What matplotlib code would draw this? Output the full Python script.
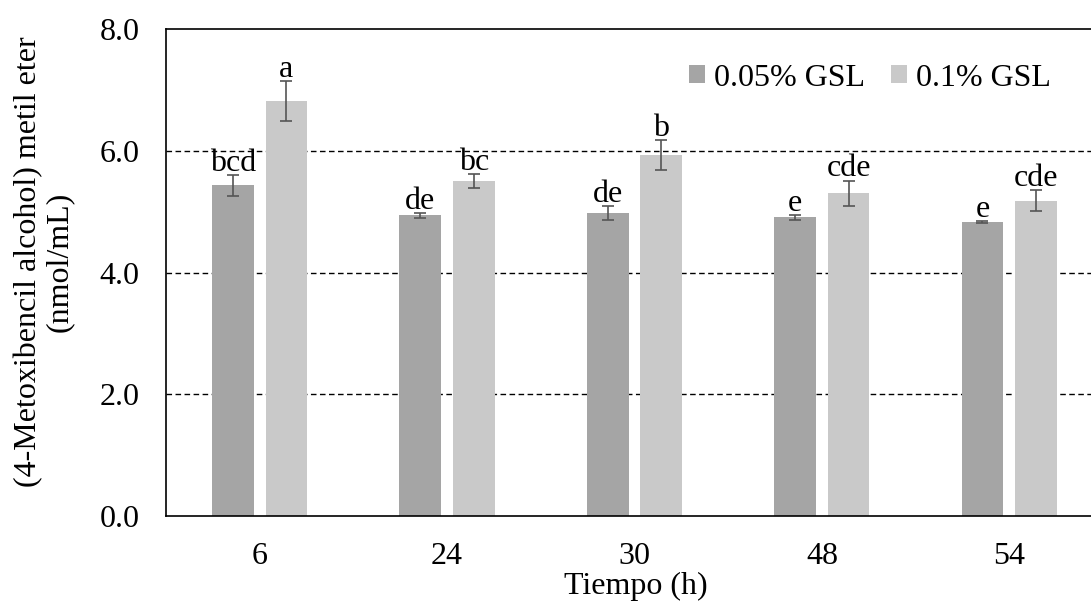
import matplotlib
matplotlib.use('Agg')
import matplotlib.pyplot as plt
import numpy as np

# Datos: concentración por tiempo de muestreo y dosis de GSL
tiempos = ['6', '24', '30', '48', '54']
series = ['0.05% GSL', '0.1% GSL']
media_005 = [5.43, 4.94, 4.98, 4.91, 4.83]
media_01 = [6.82, 5.50, 5.93, 5.30, 5.18]
de_005 = [0.17, 0.04, 0.11, 0.04, 0.01]
de_01 = [0.33, 0.11, 0.25, 0.21, 0.17]
letras_005 = ['bcd', 'de', 'de', 'e', 'e']
letras_01 = ['a', 'bc', 'b', 'cde', 'cde']
yticks = [0.0, 2.0, 4.0, 6.0, 8.0]

COLOR_005 = '#a5a5a5'
COLOR_01 = '#c9c9c9'
FUENTE = 'Liberation Serif'
TAM = 23

plt.rcParams['font.family'] = FUENTE

fig = plt.figure(figsize=(10.91, 6.09), dpi=100)
ax = fig.add_axes([166 / 1091, 93 / 609, 925 / 1091, 487 / 609])

x = np.arange(len(tiempos))
ancho = 0.222
desp = 0.143

err_kw = dict(ecolor='#555555', elinewidth=1.2, capsize=4.5, capthick=1.2)
ax.bar(x - desp, media_005, ancho, color=COLOR_005, label=series[0],
       yerr=de_005, error_kw=err_kw, zorder=2)
ax.bar(x + desp, media_01, ancho, color=COLOR_01, label=series[1],
       yerr=de_01, error_kw=err_kw, zorder=2)

# Letras de significancia sobre cada barra
for xs, medias, des, letras in [(x - desp, media_005, de_005, letras_005),
                                (x + desp, media_01, de_01, letras_01)]:
    for xi, m, d, l in zip(xs, medias, des, letras):
        ax.annotate(l, xy=(xi, m + d), xytext=(0, 3), textcoords='offset points',
                    ha='center', va='baseline', fontsize=TAM, zorder=3)

ax.set_xlim(-0.5, 4.436)
ax.set_ylim(0, 8)
ax.set_yticks(yticks)
ax.set_yticklabels([f'{v:.1f}' for v in yticks], fontsize=TAM)
ax.set_xticks(x)
ax.set_xticklabels(tiempos, fontsize=TAM)
ax.tick_params(axis='both', length=0)
ax.tick_params(axis='y', pad=19)
ax.tick_params(axis='x', pad=19)

for v in yticks[1:-1]:
    ax.axhline(v, color='black', linewidth=1.0, linestyle=(0, (4, 2.5)), zorder=1)

ax.spines['right'].set_visible(False)
for s in ['left', 'bottom', 'top']:
    ax.spines[s].set_color('black')
    ax.spines[s].set_linewidth(1.2)

ax.legend(loc='center left', bbox_to_anchor=(689 / 1091, (609 - 78) / 609),
          bbox_transform=fig.transFigure, ncol=2, frameon=False,
          fontsize=TAM, handlelength=0.5, handleheight=0.5, handletextpad=0.28,
          columnspacing=0.83, borderpad=0, borderaxespad=0)

fig.text(636 / 1091, (609 - 586) / 609, 'Tiempo (h)',
         ha='center', va='center', fontsize=TAM)
fig.text(44 / 1091, (609 - 262) / 609, '(4-Metoxibencil alcohol) metil eter\n(nmol/mL)',
         ha='center', va='center', rotation=90, multialignment='center',
         fontsize=TAM, linespacing=1.1)

fig.savefig('out.png', dpi=100)
